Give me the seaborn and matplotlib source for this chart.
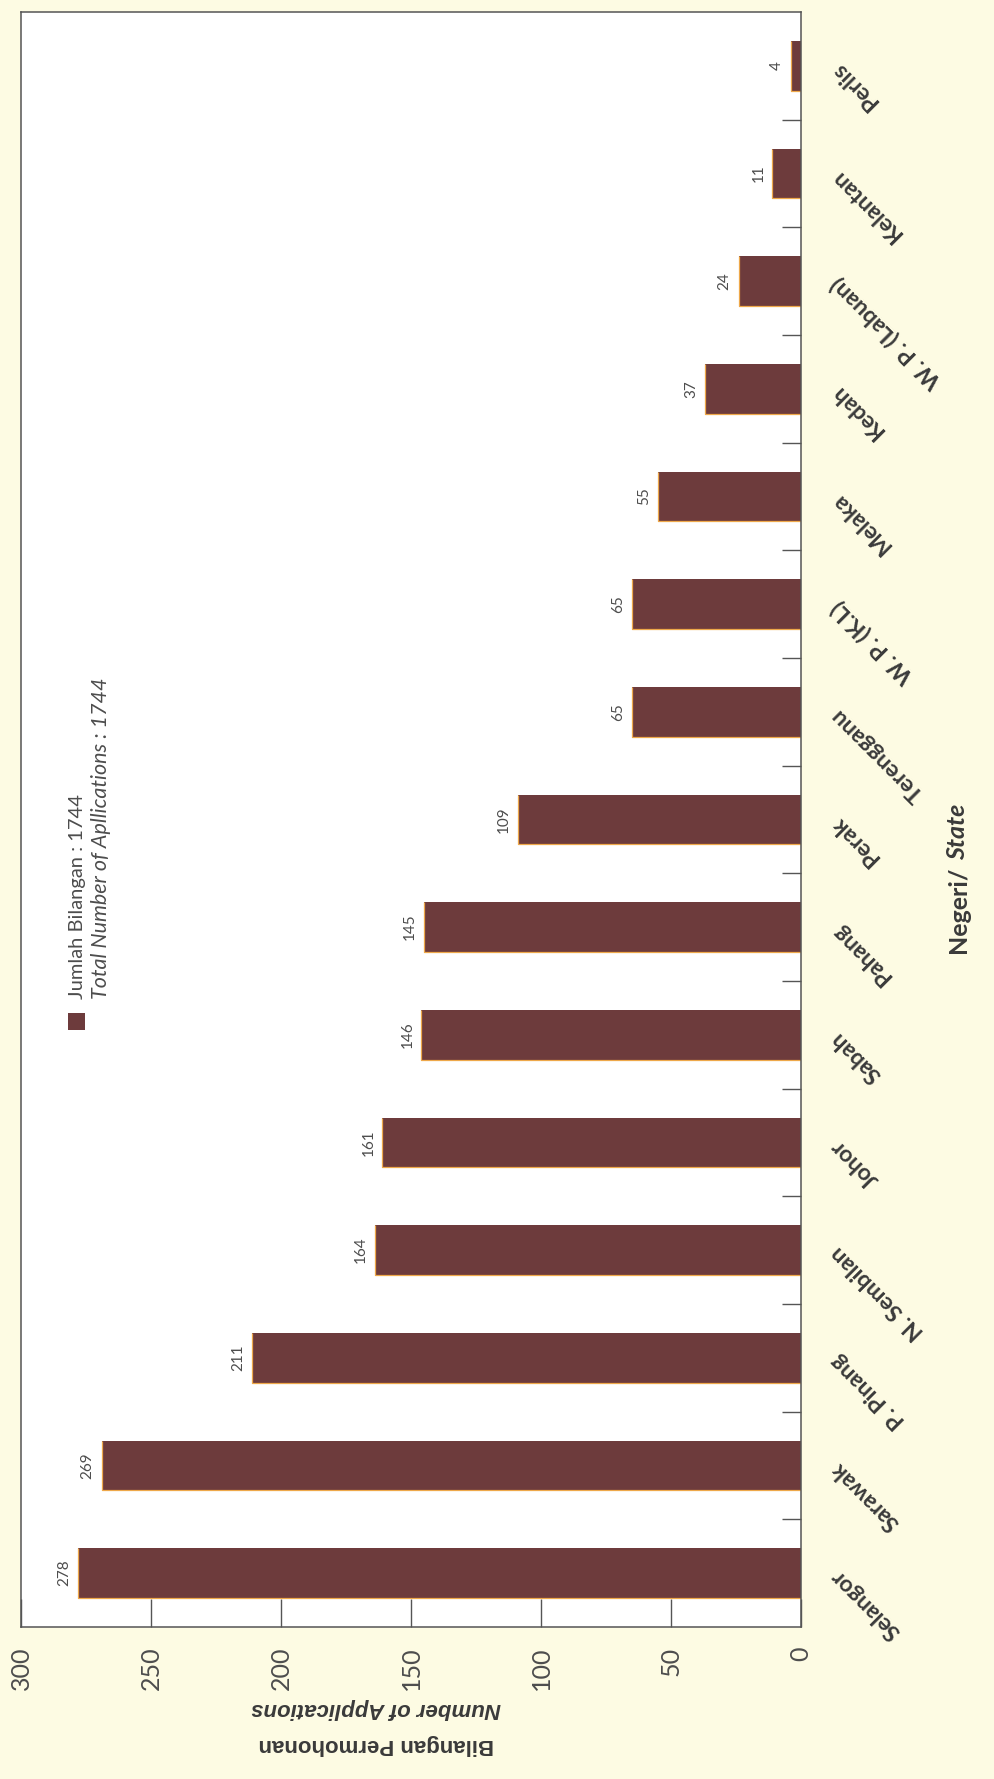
import matplotlib
matplotlib.use("Agg")
import matplotlib.pyplot as plt
from matplotlib.patches import Rectangle
import seaborn as sns
import pandas as pd

# data, in the order of the original category axis
states = ['Selangor', 'Sarawak', 'P. Pinang', 'N. Sembilan', 'Johor', 'Sabah', 'Pahang',
          'Perak', 'Terengganu', 'W. P. (K.L)', 'Melaka', 'Kedah', 'W. P. (Labuan)',
          'Kelantan', 'Perlis']
applications = [278, 269, 211, 164, 161, 146, 145, 109, 65, 65, 55, 37, 24, 11, 4]
value_ticks = [0, 50, 100, 150, 200, 250, 300]
total = 1744

# colours
page = '#fdfbe3'
bar_color = '#6d3b3c'
edge_orange = '#eea84a'
spine_c = '#555555'
grey = '#4d4d4d'
dark = '#3a3a3a'

sns.set_style("white")
plt.rcParams['font.family'] = ['Lato', 'DejaVu Sans']
narrow = ['Liberation Sans Narrow', 'Liberation Sans', 'DejaVu Sans']

W, H = 994, 1779
fig = plt.figure(figsize=(W / 100, H / 100), dpi=100, facecolor=page)
ax = fig.add_axes([21 / W, 1 - 1627 / H, 780 / W, 1615 / H])
ax.set_facecolor('white')

df = pd.DataFrame({'state': states, 'n': applications})
order = states[::-1]  # Perlis at the top, Selangor at the bottom
sns.barplot(data=df, x='n', y='state', order=order, orient='h', color=bar_color,
            saturation=1, width=0.464, linewidth=0, ax=ax)

# thin orange shadow along the bottom and outer end of each bar
for p in ax.patches:
    x0, y0, w, h = p.get_x(), p.get_y(), p.get_width(), p.get_height()
    ax.plot([x0 + w, x0 + w, x0], [y0, y0 + h, y0 + h], color=edge_orange, lw=0.9,
            solid_capstyle='butt')

# value labels
for s, v in zip(states, applications):
    ax.annotate(str(v), xy=(v, order.index(s)), xytext=(-10, 0), textcoords='offset points',
                rotation=90, ha='center', va='center', fontsize=11, color=grey)

ax.set_xlim(300, 0)
ax.set_ylim(len(order) - 0.5, -0.5)
ax.set_xlabel('')
ax.set_ylabel('')

# value axis (bottom)
ax.set_xticks(value_ticks)
ax.tick_params(axis='x', direction='in', length=20, width=1, color=spine_c, pad=14,
               labelsize=18, labelrotation=90, labelcolor=grey, bottom=True, top=False)

# category axis (right)
ax.yaxis.tick_right()
ax.set_yticks(range(len(order)))
ax.set_yticks([k + 0.5 for k in range(len(order) - 1)], minor=True)
ax.tick_params(axis='y', which='major', length=0, pad=24, left=False, right=True)
ax.tick_params(axis='y', which='minor', direction='in', length=14, width=1, color=spine_c,
               left=False, right=True)
ax.set_yticklabels(order, rotation=135, rotation_mode='anchor', ha='right', va='center',
                   fontsize=16.5, fontweight='bold', color=dark)

for sp in ax.spines.values():
    sp.set_visible(True)
    sp.set_color(spine_c)
    sp.set_linewidth(1.1)

# axis titles
fig.text(376 / W, 1 - 1708 / H, 'Number of Applications', rotation=180, ha='center',
         va='center', fontsize=16, fontweight='bold', fontstyle='italic', family=narrow, color=dark)
fig.text(376 / W, 1 - 1745 / H, 'Bilangan Permohonan', rotation=180, ha='center',
         va='center', fontsize=16, fontweight='bold', family=narrow, color=dark)

t1 = fig.text(958 / W, 1 - 953 / H, 'Negeri/', rotation=90, rotation_mode='anchor',
              ha='left', va='center', fontsize=18, fontweight='bold', color=dark)
fig.canvas.draw()
bb = t1.get_window_extent()
fig.text(958 / W, (bb.y1 + 7) / H, 'State', rotation=90, rotation_mode='anchor',
         ha='left', va='center', fontsize=18, fontweight='bold', fontstyle='italic',
         color=dark)

# legend
fig.add_artist(Rectangle((68 / W, 1 - 1030 / H), 17 / W, 17 / H, transform=fig.transFigure,
                         color=bar_color, lw=0))
fig.text(78 / W, 1 - 999 / H, f'Jumlah Bilangan : {total}', rotation=90, rotation_mode='anchor',
         ha='left', va='center', fontsize=14.5, color=grey)
fig.text(101 / W, 1 - 999 / H, f'Total Number of Apllications : {total}', rotation=90,
         rotation_mode='anchor', ha='left', va='center', fontsize=15.5, fontstyle='italic',
         color=grey)

fig.savefig('out.png', dpi=100, facecolor=page)
